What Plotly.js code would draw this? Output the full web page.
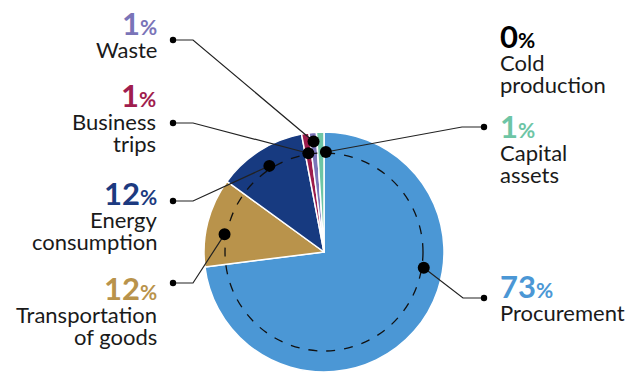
<!DOCTYPE html>
<html><head><meta charset="utf-8">
<script src="https://cdn.plot.ly/plotly-3.0.1.min.js"></script>
<style>html,body{margin:0;padding:0;background:#fff;overflow:hidden}</style>
</head><body><div id="chart" style="width:630px;height:372px"></div>
<script>
// ---- data ----
const categories = ["Procurement", "Transportation of goods", "Energy consumption", "Business trips", "Waste", "Cold production", "Capital assets"];
const shares = [73, 12, 12, 1, 1, 0, 1];
const labelLines = [["Procurement"], ["Transportation", "of goods"], ["Energy", "consumption"], ["Business", "trips"], ["Waste"], ["Cold", "production"], ["Capital", "assets"]];
const sliceColors = ["#4b97d5", "#b9934b", "#173a80", "#9c1c4c", "#7a74b8", "#111111", "#6dc5a5"];
const numberColors = ["#4b97d5", "#b9934b", "#1c3a80", "#a01d4e", "#7a74b8", "#000000", "#6dc5a5"];

// ---- layout geometry (pixels) ----
const W = 630, H = 372, CX = 324, CY = 252, R = 120, RD = 99;
const px = x => x / W, py = y => 1 - y / H;
const FONT = "Lato, 'Open Sans', sans-serif";
const NUM = 31, PCT = 21, LAB = 22;

// label placement: side, text edge x, number baseline y, anchor (fraction around pie or null=mid), radius, elbow, end dot
const place = [
  {side: "right", x: 498, base: 298, at: 0.275, r: 101, elbow: [463, 298], end: [484, 298]},
  {side: "left",  x: 159, base: 300, at: 0.778, r: 101, elbow: [193, 283], end: [173, 283]},
  {side: "left",  x: 159, base: 205, at: null,  r: 102, elbow: [193, 201], end: [173, 201]},
  {side: "left",  x: 158, base: 107, at: null,  r: 100, elbow: [193, 123], end: [173, 123]},
  {side: "left",  x: 159, base: 35,  at: null,  r: 111, elbow: [193, 40],  end: [173, 40]},
  {side: "right", x: 498, base: 48,  at: null,  r: 0,   leader: false},
  {side: "right", x: 498, base: 138, at: 0.003, r: 100, elbow: [462, 127], end: [484, 127]}
];

const total = shares.reduce((a, b) => a + b, 0);
let cum = 0;
const mids = shares.map(v => { const m = (cum + v / 2) / total; cum += v; return m; });

const shapes = [{
  type: "circle", xref: "paper", yref: "paper", layer: "above",
  x0: px(CX - RD), x1: px(CX + RD), y0: py(CY + RD), y1: py(CY - RD),
  line: {color: "#111", width: 1.3, dash: "dash"}
}];
const annotations = [];

place.forEach((p, i) => {
  const anchor = p.side === "left" ? "right" : "left";
  annotations.push({
    xref: "paper", yref: "paper", x: px(p.x), y: py(p.base - 0.38 * NUM),
    xanchor: anchor, yanchor: "middle", showarrow: false,
    text: "<b>" + shares[i] + "</b><b><span style='font-size:" + PCT + "px'>%</span></b>",
    font: {family: FONT, size: NUM, color: numberColors[i]}
  });
  labelLines[i].forEach((ln, k) => {
    const b = p.base + 23 + 22 * k;
    annotations.push({
      xref: "paper", yref: "paper", x: px(p.x), y: py(b - 0.38 * LAB),
      xanchor: anchor, yanchor: "middle", showarrow: false,
      text: ln, font: {family: FONT, size: LAB, color: "#1a1a1a"}
    });
  });
  if (p.leader === false) return;
  const f = p.at === null ? mids[i] : p.at;
  const ang = f * 2 * Math.PI;
  const ax = CX + p.r * Math.sin(ang), ay = CY - p.r * Math.cos(ang);
  shapes.push({
    type: "path", xref: "paper", yref: "paper", layer: "above",
    path: "M" + px(p.end[0]) + "," + py(p.end[1]) + " L" + px(p.elbow[0]) + "," + py(p.elbow[1]) + " L" + px(ax) + "," + py(ay),
    line: {color: "#222", width: 1.2}
  });
  const big = 6, small = 3.2;
  shapes.push({type: "circle", xref: "paper", yref: "paper", layer: "above",
    x0: px(ax - big), x1: px(ax + big), y0: py(ay + big), y1: py(ay - big),
    fillcolor: "#000", line: {width: 0}});
  shapes.push({type: "circle", xref: "paper", yref: "paper", layer: "above",
    x0: px(p.end[0] - small), x1: px(p.end[0] + small), y0: py(p.end[1] + small), y1: py(p.end[1] - small),
    fillcolor: "#000", line: {width: 0}});
});

const trace = {
  type: "pie", values: shares, labels: categories, sort: false,
  direction: "clockwise", rotation: 0, textinfo: "none", hoverinfo: "label+percent",
  marker: {colors: sliceColors, line: {color: "#ffffff", width: 1.5}},
  domain: {x: [px(CX - R), px(CX + R)], y: [py(CY + R), py(CY - R)]},
  showlegend: false
};

Plotly.newPlot("chart", [trace], {
  width: W, height: H, margin: {l: 0, r: 0, t: 0, b: 0},
  paper_bgcolor: "#fff", plot_bgcolor: "#fff", showlegend: false,
  shapes: shapes, annotations: annotations
}, {displayModeBar: false, staticPlot: true});
</script></body></html>
